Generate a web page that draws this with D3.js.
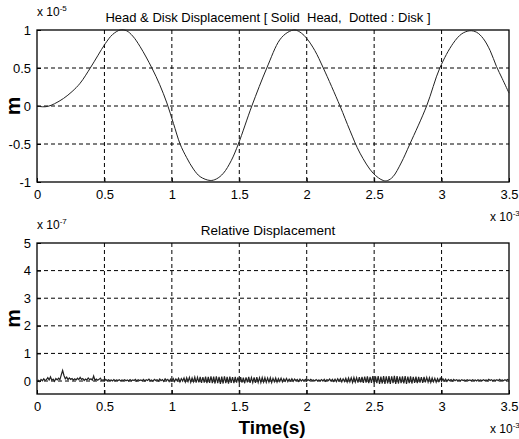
<!DOCTYPE html>
<html><head><meta charset="utf-8">
<script src="https://cdn.jsdelivr.net/npm/d3@7"></script>
<style>body{margin:0;background:#fff}svg{display:block}text{font-family:"Liberation Sans",Arial,sans-serif;fill:#000;white-space:pre}</style>
</head><body><svg id="c" width="519" height="439"></svg>
<script>
// ---- data ----
const xTicks = [0, 0.5, 1, 1.5, 2, 2.5, 3, 3.5];           // x 10^-3 s
const xTickLabels = ["0", "0.5", "1", "1.5", "2", "2.5", "3", "3.5"];
const topYTicks = [-1, -0.5, 0, 0.5, 1];                     // x 10^-5 m
const topYTickLabels = ["-1", "-0.5", "0", "0.5", "1"];
const botYTicks = [0, 1, 2, 3, 4, 5];                         // x 10^-7 m
const botYTickLabels = ["0", "1", "2", "3", "4", "5"];

// Head displacement (solid), t in 1e-3 s, value in 1e-5 m
const headT = [0,0.04,0.08,0.13,0.197,0.26,0.32,0.395,0.45,0.506,0.56,0.617,0.664,0.71,0.765,0.852,0.91,0.963,1.012,1.061,1.11,1.16,1.21,1.284,1.33,1.382,1.44,1.493,1.593,1.704,1.80,1.86,1.913,1.96,2.0,2.06,2.123,2.247,2.32,2.395,2.493,2.567,2.60,2.64,2.70,2.765,2.889,2.987,3.086,3.15,3.21,3.26,3.308,3.36,3.407,3.45,3.5];
const headV = [0,-0.01,-0.005,0.03,0.10,0.19,0.30,0.50,0.66,0.82,0.94,1.0,0.99,0.92,0.78,0.50,0.28,0.04,-0.23,-0.50,-0.68,-0.83,-0.93,-0.98,-0.96,-0.885,-0.72,-0.5,0,0.5,0.87,0.97,1.0,0.96,0.89,0.73,0.5,0,-0.32,-0.62,-0.885,-0.98,-0.98,-0.93,-0.75,-0.5,0,0.5,0.825,0.95,0.99,0.97,0.89,0.73,0.52,0.36,0.17];

// Relative displacement, sampled every 0.01e-3 s, value in 1e-7 m
const relStep = 0.01;
const relV = [
0.00,0.03,-0.02,0.06,0.01,0.08,0.02,0.05,0.12,0.04,
0.15,0.03,0.07,-0.01,0.09,0.04,0.10,0.05,0.22,0.38,
0.20,0.08,0.14,0.05,0.11,0.06,0.09,0.03,0.08,0.04,
0.10,0.05,0.13,0.06,0.09,0.02,0.07,0.04,0.11,0.05,
0.08,0.03,0.18,0.02,0.07,0.03,0.06,0.10,0.02,0.05,
0.00,0.06,0.01,0.05,0.02,0.04,0.00,0.05,0.01,0.04,
0.02,0.05,0.00,0.04,0.02,0.05,0.01,0.04,0.00,0.05,
0.01,0.04,0.02,0.06,0.00,0.05,0.02,0.04,0.01,0.06,
0.00,0.05,0.02,0.07,0.01,0.04,-0.01,0.06,0.02,0.05,
0.00,0.07,0.01,0.05,-0.01,0.08,0.02,0.06,-0.02,0.07,
0.00,0.09,-0.02,0.08,0.01,0.10,-0.03,0.09,0.00,0.11,
-0.04,0.12,-0.02,0.13,-0.05,0.11,-0.03,0.14,-0.06,0.13,
-0.05,0.15,-0.07,0.14,-0.06,0.16,-0.08,0.15,-0.07,0.17,
-0.08,0.16,-0.09,0.17,-0.08,0.15,-0.10,0.16,-0.09,0.17,
-0.08,0.15,-0.09,0.16,-0.07,0.14,-0.08,0.15,-0.06,0.13,
-0.07,0.14,-0.06,0.12,-0.08,0.13,-0.05,0.15,-0.07,0.12,
-0.06,0.13,-0.07,0.14,-0.05,0.12,-0.06,0.13,-0.04,0.12,
-0.05,0.11,-0.04,0.12,-0.06,0.10,-0.03,0.11,-0.04,0.09,
-0.02,0.10,-0.03,0.08,-0.01,0.09,-0.02,0.07,0.00,0.08,
-0.01,0.07,0.01,0.06,-0.01,0.07,0.00,0.05,0.01,0.06,
0.00,0.05,0.01,0.06,0.02,0.04,0.00,0.05,0.01,0.04,
0.01,0.05,0.00,0.06,-0.01,0.05,0.01,0.07,0.00,0.06,
-0.01,0.07,-0.02,0.08,0.00,0.09,-0.03,0.08,-0.02,0.10,
-0.04,0.11,-0.03,0.12,-0.05,0.13,-0.04,0.12,-0.06,0.14,
-0.05,0.15,-0.07,0.16,-0.06,0.17,-0.08,0.15,-0.07,0.18,
-0.09,0.17,-0.08,0.18,-0.10,0.16,-0.09,0.18,-0.10,0.17,
-0.09,0.18,-0.10,0.17,-0.08,0.19,-0.10,0.18,-0.09,0.16,
-0.08,0.17,-0.09,0.18,-0.10,0.16,-0.08,0.17,-0.09,0.15,
-0.07,0.16,-0.08,0.15,-0.06,0.14,-0.07,0.15,-0.05,0.13,
-0.04,0.12,-0.05,0.11,-0.03,0.10,-0.04,0.09,-0.02,0.10,
-0.01,0.08,0.00,0.07,-0.01,0.06,0.01,0.05,0.00,0.06,
0.01,0.05,0.02,0.04,0.01,0.05,0.02,0.04,0.01,0.05,
0.02,0.04,0.01,0.05,0.02,0.04,0.00,0.05,0.02,0.04,
0.01,0.05,0.02,0.04,0.01,0.06,0.02,0.05,0.01,0.04,
0.02,0.05,0.01,0.06,0.02,0.04,0.01,0.05,0.02,0.06,
0.03];

// ---- drawing ----
const svg = d3.select("#c");
const L = 37, R = 509;

function panel(o) {
  const x = d3.scaleLinear().domain([0, 3.5]).range([L, R]);
  const y = d3.scaleLinear().domain(o.yDom).range([o.bottom, o.top]);
  const g = svg.append("g");
  // grid
  g.append("g").selectAll("line").data(xTicks.slice(1, -1)).join("line")
    .attr("x1", d => x(d)).attr("x2", d => x(d)).attr("y1", o.top).attr("y2", o.bottom)
    .attr("stroke", "#000").attr("stroke-width", 1).attr("stroke-dasharray", "4,3");
  g.append("g").selectAll("line").data(o.yTicks.filter(d => d > o.yDom[0] && d < o.yDom[1])).join("line")
    .attr("x1", L).attr("x2", R).attr("y1", d => y(d)).attr("y2", d => y(d))
    .attr("stroke", "#000").attr("stroke-width", 1).attr("stroke-dasharray", "4,3");
  // axes
  const xa = g.append("g").attr("transform", `translate(0,${o.bottom})`)
    .call(d3.axisBottom(x).tickValues(xTicks).tickFormat((d, i) => xTickLabels[i]).tickSize(-4).tickPadding(8));
  const ya = g.append("g").attr("transform", `translate(${L},0)`)
    .call(d3.axisLeft(y).tickValues(o.yTicks).tickFormat((d, i) => o.yLabels[i]).tickSize(-4).tickPadding(6));
  [xa, ya].forEach(a => {
    a.select(".domain").remove();
    a.selectAll("line").attr("stroke", "#000");
    a.selectAll("text").attr("font-size", 13).attr("font-family", '"Liberation Sans",Arial,sans-serif');
  });
  // border
  g.append("rect").attr("x", L).attr("y", o.top).attr("width", R - L).attr("height", o.bottom - o.top)
    .attr("fill", "none").attr("stroke", "#000").attr("stroke-width", 1.3);
  // data
  g.append("path").datum(o.data)
    .attr("d", d3.line().x(d => x(d[0])).y(d => y(d[1])).curve(o.curve))
    .attr("fill", "none").attr("stroke", "#222").attr("stroke-width", o.lw);
  // labels
  g.append("text").attr("x", 268).attr("y", o.top - 8).attr("text-anchor", "middle")
    .attr("font-size", o.titleSize).text(o.title);
  const m = g.append("text").attr("x", 37).attr("y", o.top - 14).attr("font-size", 12);
  m.append("tspan").text("x 10");
  m.append("tspan").attr("dy", -5).attr("font-size", 8).text(o.exp);
  g.append("text").attr("transform", `translate(20,${(o.top + o.bottom) / 2}) rotate(-90)`)
    .attr("text-anchor", "middle").attr("font-size", 21).attr("font-weight", "bold").text("m");
  const xm = g.append("text").attr("x", 490).attr("y", o.bottom + 39).attr("font-size", 12);
  xm.append("tspan").text("x 10");
  xm.append("tspan").attr("dy", -5).attr("font-size", 8).text("-3");
  return g;
}

panel({
  top: 30, bottom: 182, yDom: [-1, 1], yTicks: topYTicks, yLabels: topYTickLabels,
  data: headT.map((t, i) => [t, headV[i]]), curve: d3.curveCatmullRom, lw: 1,
  title: "Head & Disk Displacement [ Solid  Head,  Dotted : Disk ]", titleSize: 13, exp: "-5"
});
panel({
  top: 243, bottom: 394, yDom: [-0.47, 5], yTicks: botYTicks, yLabels: botYTickLabels,
  data: relV.map((v, i) => [i * relStep, v]), curve: d3.curveLinear, lw: 1.2,
  title: "Relative Displacement", titleSize: 13.5, exp: "-7"
});
svg.append("text").attr("x", 272).attr("y", 434).attr("text-anchor", "middle")
  .attr("font-size", 19).attr("font-weight", "bold").text("Time(s)");
</script></body></html>
